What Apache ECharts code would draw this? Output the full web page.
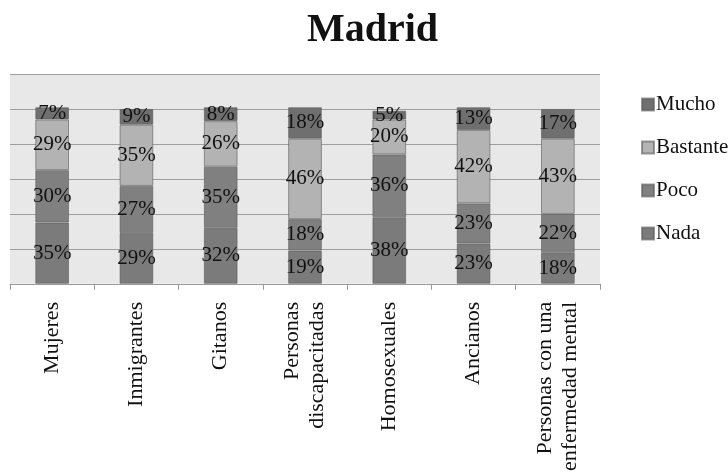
<!DOCTYPE html>
<html><head><meta charset="utf-8">
<script src="https://cdn.jsdelivr.net/npm/echarts@6/dist/echarts.min.js"></script>
<style>html,body{margin:0;padding:0;background:#fff}#c{width:728px;height:474px}</style>
</head><body><div id="c"></div>
<script>
const categories = ['Mujeres','Inmigrantes','Gitanos','Personas\ndiscapacitadas','Homosexuales','Ancianos','Personas con una\nenfermedad mental'];
const nada     = [35, 29, 32, 19, 38, 23, 18];
const poco     = [30, 27, 35, 18, 36, 23, 22];
const bastante = [29, 35, 26, 46, 20, 42, 43];
const mucho    = [7, 9, 8, 18, 5, 13, 17];
const legendOrder = ['Mucho','Bastante','Poco','Nada'];

const font = 'Liberation Serif';
function mk(name, data, color){
  return {name, type:'bar', stack:'total', data, barWidth:'40%',
    itemStyle:{color, borderColor:'rgba(90,90,90,0.6)', borderWidth:1},
    label:{show:true, position:'inside', formatter:'{c}%', fontFamily:font, fontSize:21, color:'#111'}};
}
const chart = echarts.init(document.getElementById('c'));
chart.setOption({
  animation:false,
  title:{text:'Madrid', left:302, top:6, textStyle:{fontFamily:font, fontSize:40, fontWeight:'bold', color:'#111'}},
  legend:{orient:'vertical', left:636, top:89, itemGap:22, itemWidth:12, itemHeight:12, icon:'rect',
    data:legendOrder, textStyle:{fontFamily:font, fontSize:21, color:'#111', padding:[0,0,0,-3]}},
  grid:{left:10, right:128, top:74, bottom:188, show:true, backgroundColor:'#e8e8e8', borderWidth:0},
  xAxis:{type:'category', data:categories,
    axisLine:{lineStyle:{color:'#999'}}, axisTick:{show:true, length:6, lineStyle:{color:'#999'}},
    axisLabel:{rotate:90, fontFamily:font, fontSize:22, color:'#111', margin:18, lineHeight:25, interval:0}},
  yAxis:{type:'value', min:0, max:120, interval:20, axisLabel:{show:false}, axisLine:{show:false}, axisTick:{show:false},
    splitLine:{lineStyle:{color:'#9e9e9e'}}},
  series:[
    mk('Nada', nada, '#7b7b7b'),
    mk('Poco', poco, '#808080'),
    mk('Bastante', bastante, '#b3b3b3'),
    mk('Mucho', mucho, '#6f6f6f')
  ]
});
</script></body></html>
